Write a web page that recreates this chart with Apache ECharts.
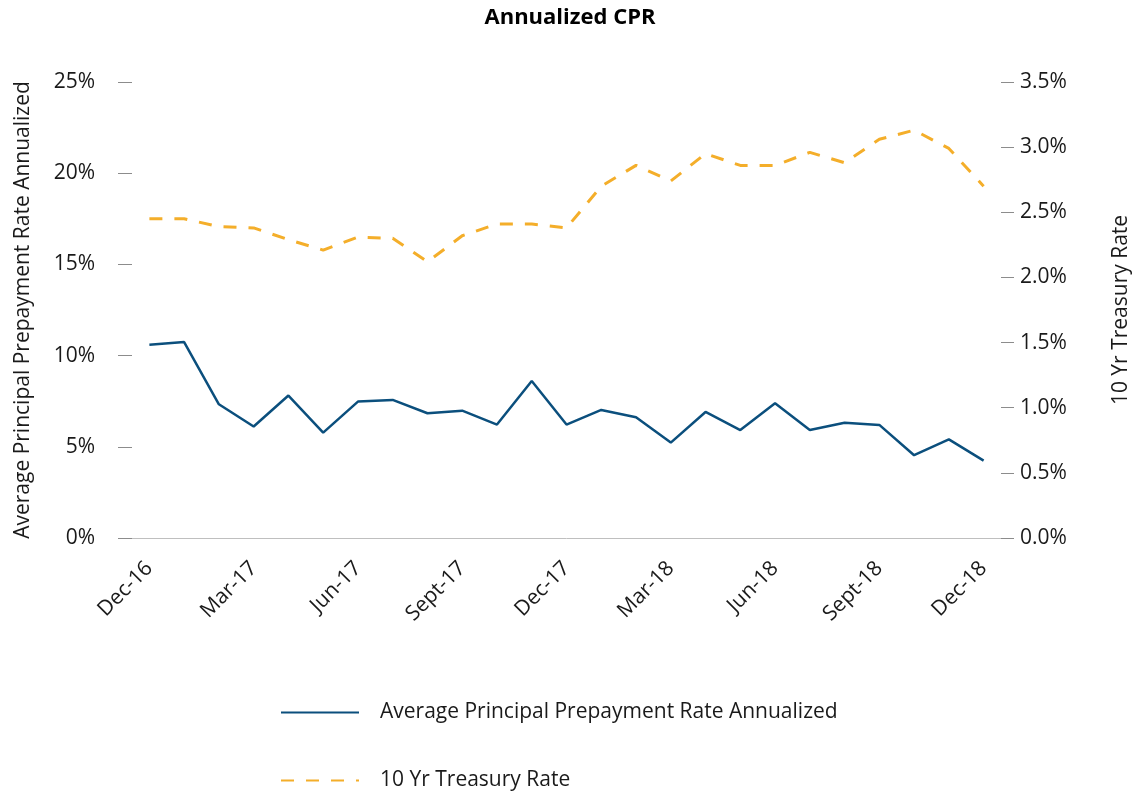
<!DOCTYPE html>
<html>
<head>
<meta charset="utf-8">
<script src="https://cdn.jsdelivr.net/npm/echarts@6/dist/echarts.min.js"></script>
<style>
html,body{margin:0;padding:0;background:#fff;}
#chart{width:1140px;height:797px;}
</style>
</head>
<body>
<div id="chart"></div>
<script>
const categories = ['Dec-16','Jan-17','Feb-17','Mar-17','Apr-17','May-17','Jun-17','Jul-17','Aug-17','Sept-17','Oct-17','Nov-17','Dec-17','Jan-18','Feb-18','Mar-18','Apr-18','May-18','Jun-18','Jul-18','Aug-18','Sept-18','Oct-18','Nov-18','Dec-18'];
const cprValues = [10.59,10.74,7.33,6.11,7.81,5.78,7.48,7.57,6.84,6.98,6.22,8.61,6.22,7.02,6.62,5.23,6.91,5.92,7.39,5.92,6.32,6.20,4.54,5.41,4.24];
const treasuryValues = [2.45,2.45,2.39,2.38,2.29,2.21,2.31,2.30,2.12,2.32,2.41,2.41,2.38,2.70,2.86,2.74,2.95,2.86,2.86,2.96,2.88,3.06,3.13,2.99,2.70];
const seriesNames = ['Average Principal Prepayment Rate Annualized','10 Yr Treasury Rate'];
const chartTitle = 'Annualized CPR';

const FONT = 'Open Sans';
const chart = echarts.init(document.getElementById('chart'), null, {renderer:'canvas'});
chart.setOption({
  animation:false,
  backgroundColor:'#fff',
  textStyle:{fontFamily:FONT},
  title:{text:chartTitle,left:'center',top:2,textStyle:{fontFamily:FONT,fontWeight:'bold',fontSize:22,color:'#000'}},
  grid:{left:132,right:139,top:82,bottom:259},
  legend:{
    orient:'vertical',left:280,top:702,itemWidth:78,itemHeight:14,itemGap:47,padding:0,
    itemStyle:{opacity:0},
    textStyle:{fontFamily:FONT,fontSize:21,color:'#1a1a1a',padding:[0,0,0,16]}
  },
  xAxis:{
    type:'category',data:categories,boundaryGap:true,
    axisLine:{lineStyle:{color:'#bfbfbf',width:1}},
    axisTick:{alignWithLabel:true,interval:2,length:12,lineStyle:{color:'#7f7f7f'}},
    axisLabel:{interval:2,rotate:45,margin:27,fontSize:21,color:'#1a1a1a',fontFamily:FONT}
  },
  yAxis:[{
    type:'value',min:0,max:25,interval:5,position:'left',
    name:seriesNames[0],nameLocation:'middle',nameGap:98,
    nameTextStyle:{fontSize:21,color:'#1a1a1a',fontFamily:FONT},
    axisLine:{show:false},splitLine:{show:false},
    axisTick:{show:true,length:14,lineStyle:{color:'#8c8c8c'}},
    axisLabel:{formatter:'{value}%',fontSize:21,color:'#1a1a1a',margin:37,fontFamily:FONT}
  },{
    type:'value',min:0,max:3.5,interval:0.5,position:'right',
    name:seriesNames[1],nameLocation:'middle',nameGap:110,
    nameTextStyle:{fontSize:21,color:'#1a1a1a',fontFamily:FONT},
    axisLine:{show:false},splitLine:{show:false},
    axisTick:{show:true,length:13,lineStyle:{color:'#8c8c8c'}},
    axisLabel:{formatter:v=>v.toFixed(1)+'%',fontSize:21,color:'#1a1a1a',margin:19,fontFamily:FONT}
  }],
  series:[{
    name:seriesNames[0],type:'line',yAxisIndex:0,data:cprValues,
    symbol:'none',lineStyle:{color:'#0b4f7d',width:2.5},itemStyle:{color:'#0b4f7d'}
  },{
    name:seriesNames[1],type:'line',yAxisIndex:1,data:treasuryValues,
    symbol:'none',lineStyle:{color:'#f4ae2a',width:3,type:[13,12]},itemStyle:{color:'#f4ae2a'}
  }]
});
</script>
</body>
</html>
